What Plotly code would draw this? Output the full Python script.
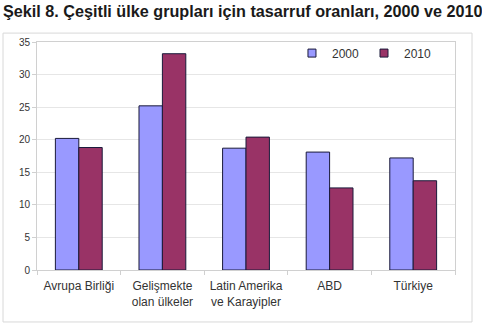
import plotly.graph_objects as go

categories = ["Avrupa Birliği", "Gelişmekte<br>olan ülkeler", "Latin Amerika<br>ve Karayipler", "ABD", "Türkiye"]
values_2000 = [20.2, 25.2, 18.7, 18.1, 17.2]
values_2010 = [18.8, 33.2, 20.4, 12.6, 13.7]
y_ticks = [0, 5, 10, 15, 20, 25, 30, 35]
series_names = ["2000", "2010"]
series_colors = ["#9999FF", "#993366"]
edge = "#1a1a3a"

fig = go.Figure()
for name, vals, col in zip(series_names, [values_2000, values_2010], series_colors):
    fig.add_trace(go.Bar(x=categories, y=vals, name=name, showlegend=False,
                         marker=dict(color=col, line=dict(color=edge, width=1))))
# small square legend markers
for name, col in zip(series_names, series_colors):
    fig.add_trace(go.Scatter(x=[None], y=[None], mode="markers", name=name,
                             marker=dict(symbol="square", size=8, color=col,
                                         line=dict(color=edge, width=1))))

fig.update_layout(
    width=482, height=325,
    margin=dict(l=37, r=27, t=42, b=55),
    paper_bgcolor="white", plot_bgcolor="white",
    barmode="group", bargap=0.44, bargroupgap=0,
    font=dict(family="Arial, Liberation Sans, sans-serif", color="#333333"),
    legend=dict(orientation="h", x=0.61, y=1.015, xanchor="left", yanchor="top",
                font=dict(size=12, color="#333333"), bgcolor="rgba(0,0,0,0)",
                itemwidth=30, tracegroupgap=0),
    showlegend=True,
)
fig.add_annotation(text="<b>Şekil 8. Çeşitli ülke grupları için tasarruf oranları, 2000 ve 2010</b>",
                   xref="paper", yref="paper", x=-0.087, y=1.136, xanchor="left", yanchor="middle",
                   showarrow=False, font=dict(size=16.2, color="#1a1a1a"))
fig.update_yaxes(range=[0, 35], tickvals=y_ticks, showgrid=True, gridcolor="#e6e6e6",
                 showline=True, linecolor="#d0d0d0", mirror=True, ticks="outside",
                 ticklen=4, tickcolor="#d0d0d0", tickfont=dict(size=10, color="#333333"),
                 zeroline=False)
fig.update_xaxes(showline=True, linecolor="#d0d0d0", mirror=True, ticks="outside",
                 tickson="boundaries", ticklen=4, tickcolor="#d0d0d0",
                 ticklabelstandoff=5, tickfont=dict(size=12, color="#333333"))

fig.add_shape(type="rect", xref="paper", yref="paper",
              x0=-0.0813, x1=1.0407, y0=-0.228, y1=1.039,
              line=dict(color="#d8d8d8", width=1), fillcolor="rgba(0,0,0,0)", layer="below")

fig.write_html("out.html")
